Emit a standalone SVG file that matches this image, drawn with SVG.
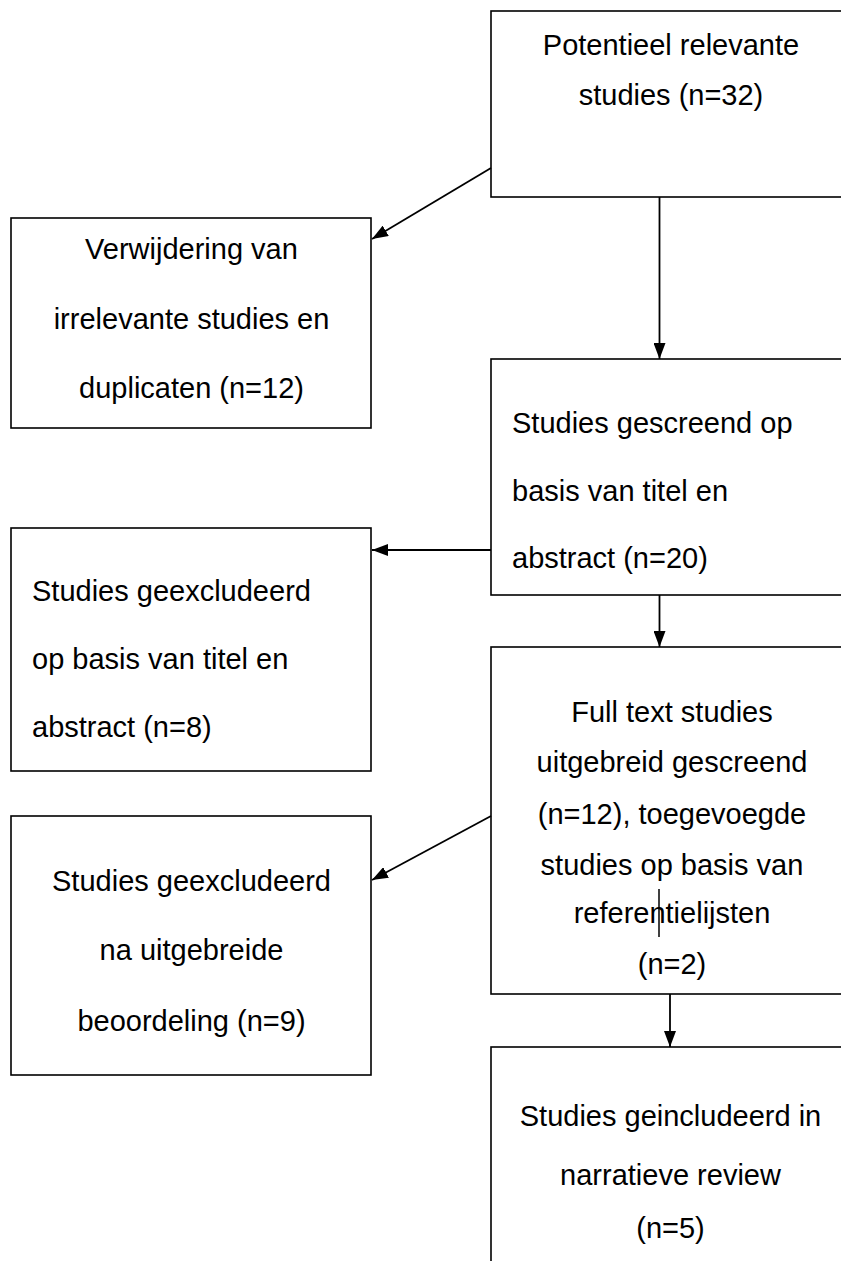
<svg xmlns="http://www.w3.org/2000/svg" width="841" height="1261" viewBox="0 0 841 1261">
<style>
.box{fill:#fff;stroke:#000;stroke-width:1.6}
.t{font-family:"Liberation Sans",Arial,sans-serif;font-size:29px;fill:#000}
.c{text-anchor:middle}
.conn{stroke:#000;stroke-width:1.8;fill:none}
</style>
<defs>
<marker id="ah" viewBox="0 0 16 12" refX="16" refY="6" markerWidth="16" markerHeight="12" markerUnits="userSpaceOnUse" orient="auto">
<path d="M0,0 L16,6 L0,12 z" fill="#000"/>
</marker>
</defs>
<rect width="841" height="1261" fill="#fff"/>
<g id="node-potentieel">
<rect class="box" x="491" y="11" width="370" height="186"/>
<text class="t c" x="671" y="55">Potentieel relevante</text>
<text class="t c" x="671" y="105">studies (n=32)</text>
</g>
<g id="node-verwijdering">
<rect class="box" x="11" y="218" width="360" height="210"/>
<text class="t c" x="191.5" y="259">Verwijdering van</text>
<text class="t c" x="191.5" y="329">irrelevante studies en</text>
<text class="t c" x="191.5" y="398">duplicaten (n=12)</text>
</g>
<g id="node-gescreend">
<rect class="box" x="491" y="359" width="370" height="236"/>
<text class="t" x="512" y="433">Studies gescreend op</text>
<text class="t" x="512" y="501">basis van titel en</text>
<text class="t" x="512" y="568">abstract (n=20)</text>
</g>
<g id="node-geexcl-titel">
<rect class="box" x="11" y="528" width="360" height="243"/>
<text class="t" x="32" y="601">Studies geexcludeerd</text>
<text class="t" x="32" y="669">op basis van titel en</text>
<text class="t" x="32" y="737">abstract (n=8)</text>
</g>
<g id="node-fulltext">
<rect class="box" x="491" y="647" width="370" height="347"/>
<text class="t c" x="672" y="722">Full text studies</text>
<text class="t c" x="672" y="772">uitgebreid gescreend</text>
<text class="t c" x="672" y="824">(n=12), toegevoegde</text>
<text class="t c" x="672" y="875">studies op basis van</text>
<text class="t c" x="672" y="923">referentielijsten</text>
<text class="t c" x="672" y="974">(n=2)</text>
<line x1="659" y1="889" x2="659" y2="937" stroke="#000" stroke-width="1.5"/>
</g>
<g id="node-geexcl-na">
<rect class="box" x="11" y="816" width="360" height="259"/>
<text class="t c" x="191.5" y="891">Studies geexcludeerd</text>
<text class="t c" x="191.5" y="960">na uitgebreide</text>
<text class="t c" x="191.5" y="1031">beoordeling (n=9)</text>
</g>
<g id="node-geincludeerd">
<rect class="box" x="491" y="1047" width="370" height="240"/>
<text class="t c" x="670.5" y="1126">Studies geincludeerd in</text>
<text class="t c" x="670.5" y="1185">narratieve review</text>
<text class="t c" x="670.5" y="1238">(n=5)</text>
</g>
<g id="connectors">
<line class="conn" x1="491" y1="168" x2="372" y2="239" marker-end="url(#ah)"/>
<line class="conn" x1="659.5" y1="197" x2="659.5" y2="359" marker-end="url(#ah)"/>
<line class="conn" x1="491" y1="550" x2="372" y2="550" marker-end="url(#ah)"/>
<line class="conn" x1="659.5" y1="595" x2="659.5" y2="647" marker-end="url(#ah)"/>
<line class="conn" x1="491" y1="816" x2="372" y2="880" marker-end="url(#ah)"/>
<line class="conn" x1="670" y1="994" x2="670" y2="1047" marker-end="url(#ah)"/>
</g>
</svg>
